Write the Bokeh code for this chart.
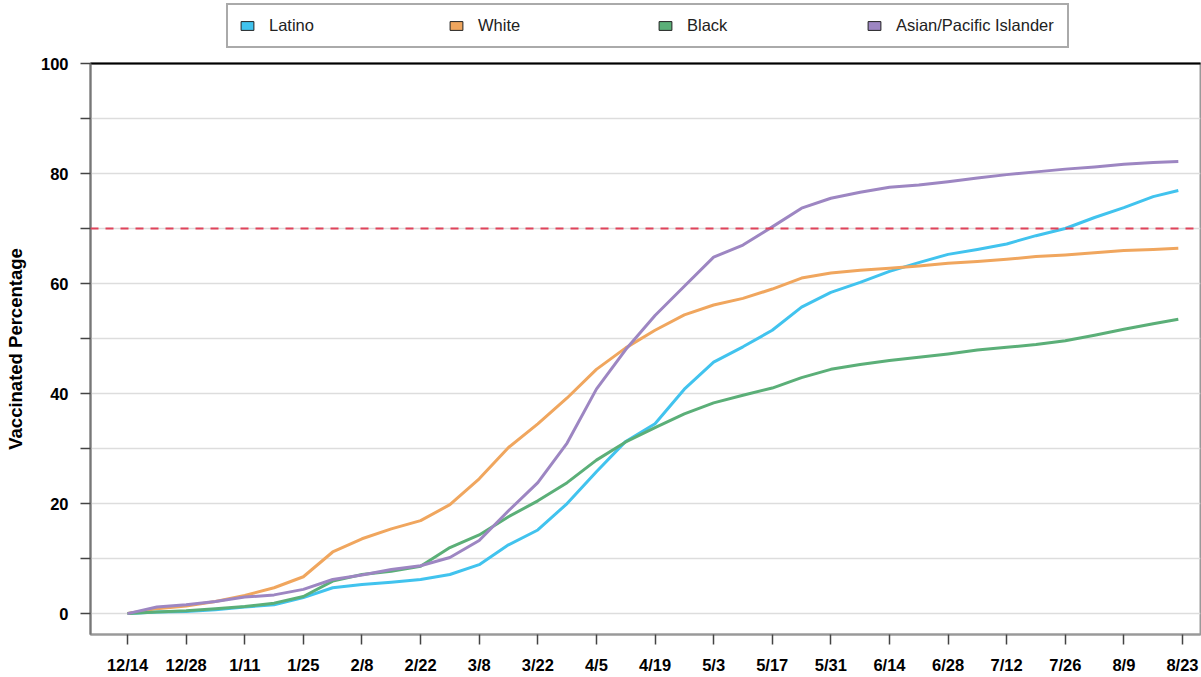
from bokeh.plotting import figure
from bokeh.layouts import column
from bokeh.models import (Range1d, FixedTicker, LinearAxis, Span, Legend,
                          LegendItem, ColumnDataSource)
from bokeh.embed import file_html
from bokeh.resources import INLINE

# days since 12/14/2020
days = [0, 7, 14, 21, 28, 35, 42, 49, 56, 63, 70, 77, 84, 91, 98, 105, 112,
        119, 126, 133, 140, 147, 154, 161, 168, 175, 182, 189, 196, 203, 210,
        217, 224, 231, 238, 245, 251]

latino = [0, 0.3, 0.4, 0.7, 1.2, 1.6, 2.9, 4.7, 5.3, 5.7, 6.2, 7.1, 8.9, 12.5,
          15.2, 20.0, 25.8, 31.3, 34.5, 40.8, 45.7, 48.5, 51.5, 55.7, 58.4,
          60.2, 62.2, 63.8, 65.3, 66.2, 67.2, 68.7, 70.0, 72.0, 73.8, 75.8, 76.9]
white = [0, 0.9, 1.4, 2.2, 3.3, 4.7, 6.7, 11.2, 13.6, 15.4, 16.9, 19.8, 24.5,
         30.2, 34.5, 39.2, 44.4, 48.3, 51.5, 54.3, 56.1, 57.3, 59.0, 61.0,
         61.9, 62.4, 62.8, 63.2, 63.7, 64.0, 64.4, 64.9, 65.2, 65.6, 66.0,
         66.2, 66.4]
black = [0, 0.3, 0.5, 0.9, 1.3, 1.9, 3.1, 5.9, 7.1, 7.7, 8.6, 12.0, 14.3, 17.6,
         20.5, 23.8, 27.9, 31.2, 33.8, 36.3, 38.3, 39.7, 41.0, 42.9, 44.4,
         45.3, 46.0, 46.6, 47.2, 47.9, 48.4, 48.9, 49.6, 50.6, 51.7, 52.7, 53.5]
asian = [0, 1.2, 1.6, 2.2, 3.0, 3.4, 4.4, 6.2, 7.0, 8.0, 8.7, 10.2, 13.3, 18.7,
         23.8, 31.0, 40.8, 48.0, 54.2, 59.5, 64.8, 67.0, 70.3, 73.7, 75.5,
         76.6, 77.5, 77.9, 78.5, 79.2, 79.8, 80.3, 80.8, 81.2, 81.7, 82.0, 82.2]

series_names = ["Latino", "White", "Black", "Asian/Pacific Islander"]
series_colors = ["#41C3EE", "#F0A65E", "#5BAF78", "#9D86C2"]
series_values = [latino, white, black, asian]

tick_days = list(range(0, 253, 14))
tick_labels = ["12/14", "12/28", "1/11", "1/25", "2/8", "2/22", "3/8", "3/22",
               "4/5", "4/19", "5/3", "5/17", "5/31", "6/14", "6/28", "7/12",
               "7/26", "8/9", "8/23"]
target = 70

FONT = "Liberation Sans"
W = 1201
NAN = float("nan")

# ---------- legend strip ----------
leg = figure(width=W, height=53, output_backend="svg", toolbar_location=None,
             x_range=Range1d(0, 1), y_range=Range1d(0, 1),
             min_border_left=0, min_border_right=0, min_border_top=0,
             min_border_bottom=0)
leg.axis.visible = False
leg.grid.visible = False
leg.outline_line_color = None
leg.background_fill_color = "white"
leg.border_fill_color = "white"

items = []
for name, color in zip(series_names, series_colors):
    # legend swatch proxy (NaN geometry: nothing is drawn in the plot area)
    r = leg.quad(left=[NAN], right=[NAN], top=[NAN], bottom=[NAN],
                 fill_color=color, line_color="#222222", line_width=1)
    items.append(LegendItem(label=name, renderers=[r]))

legend = Legend(items=items, orientation="horizontal", location=(136, 5),
                glyph_width=16, glyph_height=11, label_standoff=14,
                label_width=160, label_height=18, spacing=19, padding=11,
                margin=0,
                label_text_font=FONT, label_text_font_size="16.5px",
                label_text_color="#222222", border_line_color="#555555",
                border_line_width=2, background_fill_color="white",
                background_fill_alpha=1.0)
leg.add_layout(legend, "center")

# ---------- main plot ----------
p = figure(width=W, height=623, output_backend="svg", toolbar_location=None,
           x_range=Range1d(-8.85, 256.3), y_range=Range1d(-3.8, 100),
           min_border_left=90, min_border_right=1, min_border_top=10,
           min_border_bottom=41)
p.background_fill_color = "white"
p.border_fill_color = "white"
p.outline_line_color = "#999999"
p.outline_line_width = 2

p.xgrid.grid_line_color = None
p.ygrid.ticker = FixedTicker(ticks=[0, 20, 40, 60, 80, 100],
                             minor_ticks=[10, 30, 50, 70, 90])
p.ygrid.grid_line_color = "#DDDDDD"
p.ygrid.grid_line_width = 1.5
p.ygrid.minor_grid_line_color = "#DDDDDD"
p.ygrid.minor_grid_line_width = 1.5

ya = p.yaxis[0]
ya.ticker = FixedTicker(ticks=[0, 20, 40, 60, 80, 100],
                        minor_ticks=[10, 30, 50, 70, 90])
ya.axis_label = "Vaccinated Percentage"
ya.axis_label_text_font = FONT
ya.axis_label_text_font_style = "bold"
ya.axis_label_text_font_size = "18.5px"
ya.axis_label_text_color = "black"
ya.axis_label_standoff = 12
ya.major_label_text_font = FONT
ya.major_label_text_font_style = "bold"
ya.major_label_text_font_size = "16.5px"
ya.major_label_text_color = "black"
ya.major_label_standoff = 12
ya.major_tick_in = 0
ya.major_tick_out = 10
ya.minor_tick_in = 0
ya.minor_tick_out = 10
ya.major_tick_line_color = "#444444"
ya.minor_tick_line_color = "#444444"
ya.major_tick_line_width = 1.5
ya.minor_tick_line_width = 1.5
ya.axis_line_color = "#777777"
ya.axis_line_width = 2

xa = p.xaxis[0]
xa.ticker = FixedTicker(ticks=tick_days)
xa.major_label_overrides = {d: l for d, l in zip(tick_days, tick_labels)}
xa.major_label_text_font = FONT
xa.major_label_text_font_style = "bold"
xa.major_label_text_font_size = "16.5px"
xa.major_label_text_color = "black"
xa.major_label_standoff = 11
xa.major_tick_in = 0
xa.major_tick_out = 10
xa.minor_tick_line_color = None
xa.major_tick_line_color = "#444444"
xa.major_tick_line_width = 1.5
xa.axis_line_color = "#999999"
xa.axis_line_width = 2

top_axis = LinearAxis(ticker=FixedTicker(ticks=[]), axis_line_color="black",
                      axis_line_width=2, major_tick_line_color=None,
                      minor_tick_line_color=None, major_label_text_color=None,
                      major_tick_out=0, major_tick_in=0)
p.add_layout(top_axis, "above")

p.add_layout(Span(location=target, dimension="width", line_color="#E0435A",
                  line_width=2, line_dash="8 7"))

for name, color, vals in zip(series_names, series_colors, series_values):
    src = ColumnDataSource(dict(x=days, y=vals))
    p.line("x", "y", source=src, line_color=color, line_width=3,
           line_join="round")

layout = column(leg, p, spacing=0)
open("out.html", "w").write(file_html(layout, INLINE))
